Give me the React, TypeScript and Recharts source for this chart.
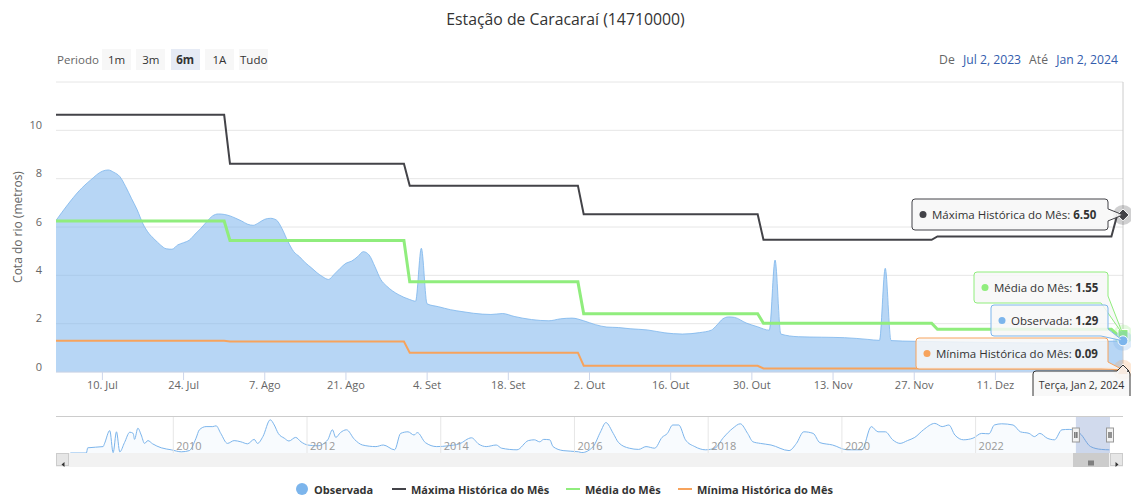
import React from "react"
import {
  ComposedChart,
  Area,
  Line,
  XAxis,
  YAxis,
  CartesianGrid,
  ReferenceLine,
  ReferenceDot,
  ReferenceArea,
} from "recharts"

const FONT = "'Open Sans', 'DejaVu Sans', sans-serif"
const DAY = 86400000

const MONTHS = ["Jan", "Fev", "Mar", "Abr", "Mai", "Jun", "Jul", "Ago", "Set", "Out", "Nov", "Dez"]
const WEEKDAYS = ["Domingo", "Segunda", "Terça", "Quarta", "Quinta", "Sexta", "Sábado"]

const title = "Estação de Caracaraí (14710000)"
const periodButtons = ["1m", "3m", "6m", "1A", "Tudo"]
const selectedPeriod = "6m"
const rangeStart = "2023-07-02"
const rangeEnd = "2024-01-02"

// cota observada (m)
const obsDates = [
  "2023-07-02", "2023-07-04", "2023-07-06", "2023-07-08", "2023-07-10", "2023-07-11", "2023-07-12",
  "2023-07-13", "2023-07-14", "2023-07-15", "2023-07-16", "2023-07-17", "2023-07-18", "2023-07-19",
  "2023-07-20", "2023-07-21", "2023-07-22", "2023-07-23", "2023-07-24", "2023-07-25", "2023-07-26",
  "2023-07-27", "2023-07-28", "2023-07-29", "2023-07-30", "2023-07-31", "2023-08-01", "2023-08-02",
  "2023-08-03", "2023-08-04", "2023-08-05", "2023-08-06", "2023-08-07", "2023-08-08", "2023-08-09",
  "2023-08-10", "2023-08-11", "2023-08-12", "2023-08-13", "2023-08-14", "2023-08-15", "2023-08-16",
  "2023-08-17", "2023-08-18", "2023-08-19", "2023-08-20", "2023-08-21", "2023-08-22", "2023-08-23",
  "2023-08-24", "2023-08-25", "2023-08-26", "2023-08-27", "2023-08-28", "2023-08-29", "2023-08-30",
  "2023-08-31", "2023-09-01", "2023-09-02", "2023-09-03", "2023-09-04", "2023-09-06", "2023-09-08",
  "2023-09-10", "2023-09-12", "2023-09-15", "2023-09-17", "2023-09-19", "2023-09-22", "2023-09-25",
  "2023-09-27", "2023-09-29", "2023-10-01", "2023-10-03", "2023-10-05", "2023-10-07", "2023-10-09",
  "2023-10-12", "2023-10-15", "2023-10-18", "2023-10-21", "2023-10-23", "2023-10-24", "2023-10-25",
  "2023-10-26", "2023-10-27", "2023-10-29", "2023-10-31", "2023-11-02", "2023-11-03", "2023-11-04",
  "2023-11-07", "2023-11-11", "2023-11-15", "2023-11-19", "2023-11-21", "2023-11-22", "2023-11-23",
  "2023-11-27", "2023-12-02", "2023-12-08", "2023-12-14", "2023-12-20", "2023-12-26", "2024-01-02",
]
const obsValues = [
  6.27, 6.92, 7.5, 7.95, 8.31, 8.36, 8.26,
  8.09, 7.68, 7.19, 6.71, 6.13, 5.74, 5.49,
  5.26, 5.1, 5.08, 5.26, 5.35, 5.46, 5.71,
  5.95, 6.22, 6.46, 6.54, 6.52, 6.46, 6.36,
  6.25, 6.12, 6.07, 6.18, 6.32, 6.36, 6.29,
  5.92, 5.4, 4.98, 4.77, 4.52, 4.32, 4.11,
  3.94, 3.83, 4.05, 4.29, 4.5, 4.59, 4.77,
  4.98, 4.84, 4.36, 3.83, 3.56, 3.36, 3.21,
  3.09, 3.0, 2.93, 5.12, 2.82, 2.7, 2.58,
  2.5, 2.43, 2.38, 2.42, 2.3, 2.17, 2.12,
  2.2, 2.23, 2.12, 1.96, 1.86, 1.84, 1.79,
  1.74, 1.62, 1.57, 1.63, 1.73, 1.95, 2.2,
  2.28, 2.26, 2.03, 1.87, 1.73, 4.63, 1.57,
  1.46, 1.44, 1.42, 1.35, 1.31, 4.29, 1.3,
  1.27, 1.25, 1.23, 1.21, 1.2, 1.24, 1.29,
]

// valores mensais historicos (m)
const monthStarts = ["2023-07-02", "2023-08-01", "2023-09-01", "2023-10-01", "2023-11-01", "2023-12-01", "2024-01-01"]
const maxByMonth = [10.64, 8.62, 7.71, 6.53, 5.47, 5.61, 6.5]
const meanByMonth = [6.25, 5.44, 3.73, 2.41, 2.02, 1.77, 1.55]
const minByMonth = [1.29, 1.26, 0.8, 0.26, 0.15, 0.14, 0.09]

// 25. Dez fica escondido sob o rotulo do tooltip
const xTickDates = [
  "2023-07-10", "2023-07-24", "2023-08-07", "2023-08-21", "2023-09-04", "2023-09-18", "2023-10-02",
  "2023-10-16", "2023-10-30", "2023-11-13", "2023-11-27", "2023-12-11",
]
const yTicks = [0, 2, 4, 6, 8, 10, 12]

// navegador: serie historica completa (ano decimal, m)
const navYears = [
  2008.46, 2008.7, 2008.72, 2008.95, 2008.97, 2009.05, 2009.1, 2009.15, 2009.2, 2009.27, 2009.35,
  2009.4, 2009.42, 2009.47, 2009.52, 2009.57, 2009.62, 2009.69, 2009.82, 2009.97, 2010.12, 2010.24,
  2010.34, 2010.39, 2010.49, 2010.59, 2010.64, 2010.71, 2010.81, 2010.91, 2011.01, 2011.11, 2011.21,
  2011.26, 2011.34, 2011.45, 2011.51, 2011.57, 2011.66, 2011.73, 2011.83, 2011.91, 2012.01, 2012.16,
  2012.31, 2012.38, 2012.43, 2012.5, 2012.59, 2012.71, 2012.83, 2013.03, 2013.14, 2013.31, 2013.4,
  2013.51, 2013.6, 2013.65, 2013.77, 2013.94, 2014.11, 2014.28, 2014.46, 2014.57, 2014.68, 2014.83,
  2014.91, 2015.14, 2015.31, 2015.4, 2015.48, 2015.54, 2015.63, 2015.68, 2015.83, 2016.06, 2016.11,
  2016.28, 2016.39, 2016.47, 2016.58, 2016.66, 2016.82, 2016.96, 2017.07, 2017.2, 2017.31, 2017.39,
  2017.47, 2017.56, 2017.66, 2017.8, 2017.96, 2018.1, 2018.23, 2018.37, 2018.48, 2018.59, 2018.67,
  2018.78, 2018.94, 2019.21, 2019.32, 2019.43, 2019.57, 2019.67, 2019.86, 2020.08, 2020.3, 2020.44,
  2020.54, 2020.65, 2020.76, 2020.87, 2020.98, 2021.09, 2021.22, 2021.39, 2021.5, 2021.6, 2021.69,
  2021.82, 2021.96, 2022.09, 2022.2, 2022.28, 2022.39, 2022.56, 2022.67, 2022.8, 2022.88, 2022.96,
  2023.07, 2023.18, 2023.29, 2023.4, 2023.56, 2023.72, 2023.88, 2024.0,
]
const navLevels = [
  0.5, 0.5, 1.8, 2.1, 2.8, 6.1, 0.6, 5.8, 0.8, 3.1, 5.7,
  5.4, 3.9, 6.7, 5.0, 2.9, 3.6, 2.8, 1.8, 1.3, 0.8, 1.1,
  4.2, 6.3, 7.1, 7.1, 7.3, 5.4, 2.9, 3.6, 3.3, 2.8, 3.9,
  2.9, 4.6, 8.8, 7.5, 5.4, 4.2, 3.5, 4.4, 3.3, 2.5, 2.3,
  3.8, 6.3, 4.4, 5.6, 6.3, 3.9, 2.5, 2.1, 2.5, 1.3, 5.4,
  5.8, 5.0, 5.6, 3.1, 2.1, 2.3, 2.8, 4.3, 2.7, 2.1, 2.5,
  1.7, 1.3, 3.6, 3.8, 3.3, 3.9, 3.8, 2.1, 1.1, 0.8, 0.6,
  2.1, 5.8, 8.1, 5.4, 3.1, 1.7, 1.4, 2.1, 1.7, 4.4, 5.4,
  7.5, 7.5, 3.8, 2.1, 1.3, 1.7, 4.4, 6.7, 7.8, 5.4, 3.3,
  2.9, 2.5, 1.1, 2.9, 5.8, 5.4, 3.1, 2.5, 1.3, 1.3, 7.1,
  5.8, 5.8, 3.8, 2.9, 3.6, 4.4, 6.3, 7.9, 7.1, 7.5, 5.0,
  3.8, 4.2, 5.4, 5.3, 7.5, 7.8, 7.5, 5.8, 5.4, 4.6, 5.4,
  4.2, 3.8, 6.3, 6.4, 5.4, 2.1, 1.4, 1.3,
]
const navTickYears = [2010, 2012, 2014, 2016, 2018, 2020, 2022]
const navDomain = [2008.44, 2024.01]
const navWindow = [2023.5, 2024.01]

const C_OBS = "#7cb5ec"
const C_MAX = "#434348"
const C_MED = "#90ed7d"
const C_MIN = "#f7a35c"

const parse = (d: string) => Date.parse(d + "T00:00:00Z")
const startT = parse(rangeStart)
const endT = parse(rangeEnd)

const obsData = obsDates.map((d, i) => ({ t: parse(d), v: obsValues[i] }))

function stepSeries(values: number[]) {
  const pts: { t: number; v: number }[] = []
  monthStarts.forEach((m, i) => {
    const next = i + 1 < monthStarts.length ? parse(monthStarts[i + 1]) - DAY : endT
    pts.push({ t: parse(m), v: values[i] })
    pts.push({ t: next, v: values[i] })
  })
  return pts
}
const maxData = stepSeries(maxByMonth)
const meanData = stepSeries(meanByMonth)
const minData = stepSeries(minByMonth)
const navData = navYears.map((y, i) => ({ yr: y, v: navLevels[i] }))

const last = (a: number[]) => a[a.length - 1]

function fmtTick(t: number) {
  const d = new Date(t)
  return `${d.getUTCDate()}. ${MONTHS[d.getUTCMonth()]}`
}
function fmtShort(t: number) {
  const d = new Date(t)
  return `${MONTHS[d.getUTCMonth()]} ${d.getUTCDate()}, ${d.getUTCFullYear()}`
}
function fmtLong(t: number) {
  return `${WEEKDAYS[new Date(t).getUTCDay()]}, ${fmtShort(t)}`
}

function YTick(props: any) {
  const { x, y, payload } = props
  if (payload.value === 12) return <g />
  return (
    <text x={x} y={y} dy={-1.5} textAnchor="end" fill="#666" fontSize={11} fontFamily={FONT}>
      {payload.value}
    </text>
  )
}

// caixa com ponteiro para a direita (tooltip dividido do Highcharts)
function calloutRight(x: number, y: number, w: number, h: number, ax: number, ay: number) {
  const r = 3
  const R = x + w
  const B = y + h
  const top = `M${x + r},${y} L${R - r},${y} Q${R},${y} ${R},${y + r}`
  const left = `L${x + r},${B} Q${x},${B} ${x},${B - r} L${x},${y + r} Q${x},${y} ${x + r},${y} Z`
  if (ay > B - 8) {
    return `${top} L${R},${B - 7} L${ax},${ay} L${R - 7},${B} ${left}`
  }
  if (ay < y + 8) {
    return `M${x + r},${y} L${R - 7},${y} L${ax},${ay} L${R},${y + 7} L${R},${B - r} Q${R},${B} ${R - r},${B} ${left}`
  }
  return `${top} L${R},${ay - 6} L${ax},${ay} L${R},${ay + 6} L${R},${B - r} Q${R},${B} ${R - r},${B} ${left}`
}

function Marker({ kind, cx, cy, color }: { kind: string; cx: number; cy: number; color: string }) {
  let m: React.ReactNode
  if (kind === "diamond") {
    m = <path d={`M${cx},${cy - 6} L${cx + 6},${cy} L${cx},${cy + 6} L${cx - 6},${cy} Z`} fill={color} stroke="#fff" />
  } else if (kind === "square") {
    m = <rect x={cx - 5} y={cy - 5} width={10} height={10} fill={color} stroke="#fff" />
  } else if (kind === "triangle") {
    m = <path d={`M${cx},${cy - 6} L${cx + 6},${cy + 5} L${cx - 6},${cy + 5} Z`} fill={color} stroke="#fff" />
  } else {
    m = <circle cx={cx} cy={cy} r={5} fill={color} stroke="#fff" />
  }
  return (
    <g>
      <circle cx={cx} cy={cy} r={10} fill={color} fillOpacity={0.25} />
      {m}
    </g>
  )
}

type Tip = { name: string; value: number; color: string; marker: string; left: number; top: number; width: number }

const TIP_H = 31
const tips: Record<string, Tip> = {
  max: { name: "Máxima Histórica do Mês", value: last(maxByMonth), color: C_MAX, marker: "diamond", left: 912, top: 199, width: 196 },
  mean: { name: "Média do Mês", value: last(meanByMonth), color: C_MED, marker: "square", left: 974, top: 272, width: 134 },
  obs: { name: "Observada", value: last(obsValues), color: C_OBS, marker: "circle", left: 991, top: 305, width: 117 },
  min: { name: "Mínima Histórica do Mês", value: last(minByMonth), color: C_MIN, marker: "triangle", left: 916, top: 338, width: 192 },
}

const tipShape = (tip: Tip) => (p: any) => (
  <g>
    <Marker kind={tip.marker} cx={p.cx} cy={p.cy} color={tip.color} />
    <path
      d={calloutRight(tip.left, tip.top, tip.width, TIP_H, p.cx, p.cy)}
      fill="rgba(247,247,247,0.85)"
      stroke={tip.color}
      strokeWidth={1}
    />
    <circle cx={tip.left + 11} cy={tip.top + 15.5} r={3.5} fill={tip.color} />
    <text x={tip.left + 20} y={tip.top + 19.5} fontSize={11.5} fontFamily={FONT} fill="#333">
      {tip.name}: <tspan fontWeight="bold">{tip.value.toFixed(2)}</tspan>
    </text>
  </g>
)

const headerShape = (p: any) => {
  const x = 1033
  const y = p.cy - 1
  const w = 97
  const h = 28
  const ax = p.cx
  const d = `M${x + 3},${y} L${ax - 6},${y} L${ax},${y - 6} L${ax + 6},${y} L${x + w - 3},${y} Q${x + w},${y} ${x + w},${y + 3} L${x + w},${y + h - 3} Q${x + w},${y + h} ${x + w - 3},${y + h} L${x + 3},${y + h} Q${x},${y + h} ${x},${y + h - 3} L${x},${y + 3} Q${x},${y} ${x + 3},${y} Z`
  return (
    <g>
      <path d={d} fill="rgba(247,247,247,0.85)" stroke="#333" strokeWidth={1} />
      <text x={x + w / 2} y={y + 18} textAnchor="middle" fontSize={10.5} fontFamily={FONT} fill="#333">
        {fmtLong(endT)}
      </text>
    </g>
  )
}

const handleShape = (p: any) => (
  <g>
    <rect x={p.cx - 3.5} y={p.cy - 7} width={7} height={14} fill="#f2f2f2" stroke="#999" />
    <line x1={p.cx - 1} y1={p.cy - 3} x2={p.cx - 1} y2={p.cy + 3} stroke="#333" />
    <line x1={p.cx + 1} y1={p.cy - 3} x2={p.cx + 1} y2={p.cy + 3} stroke="#333" />
  </g>
)

const legendItems = [
  { name: "Observada", color: C_OBS, symbol: "circle", left: 296 },
  { name: "Máxima Histórica do Mês", color: C_MAX, symbol: "line", left: 392 },
  { name: "Média do Mês", color: C_MED, symbol: "line", left: 566 },
  { name: "Mínima Histórica do Mês", color: C_MIN, symbol: "line", left: 678 },
]

export default function App() {
  const xTicks = xTickDates.map(parse)
  return (
    <div style={{ position: "absolute", left: 0, top: 0, width: 1131, height: 495, background: "#fff", fontFamily: FONT, overflow: "hidden" }}>
      <div style={{ position: "absolute", top: 8, left: 0, width: 1131, textAlign: "center", fontSize: 15.8, lineHeight: "22px", color: "#333" }}>
        {title}
      </div>

      <div style={{ position: "absolute", top: 51, left: 57, fontSize: 11.5, lineHeight: "18px", color: "#666" }}>Periodo</div>
      {periodButtons.map((b, i) => (
        <div
          key={b}
          style={{
            position: "absolute",
            top: 49,
            left: 102 + i * 34.3,
            width: 29,
            height: 21,
            lineHeight: "21px",
            textAlign: "center",
            fontSize: 11.5,
            color: "#333",
            fontWeight: b === selectedPeriod ? "bold" : "normal",
            background: b === selectedPeriod ? "#e6ebf5" : "#f7f7f7",
          }}
        >
          {b}
        </div>
      ))}
      <div style={{ position: "absolute", top: 51, right: 13, fontSize: 12.2, lineHeight: "18px", color: "#666", whiteSpace: "nowrap" }}>
        De <span style={{ color: "#335cad", margin: "0 8px 0 5px" }}>{fmtShort(startT)}</span>
        Até <span style={{ color: "#335cad", marginLeft: 5 }}>{fmtShort(endT)}</span>
      </div>

      <div style={{ position: "absolute", left: 0, top: 0 }}>
        <ComposedChart width={1131} height={396} margin={{ top: 82, right: 8, bottom: 0, left: 10 }}>
          <CartesianGrid horizontal vertical={false} stroke="#e6e6e6" />
          <XAxis
            dataKey="t"
            type="number"
            domain={[startT, endT]}
            ticks={xTicks}
            interval={0}
            tickFormatter={fmtTick}
            height={24}
            tickSize={8}
            tickMargin={1}
            stroke="#ccd6eb"
            tick={{ fill: "#666", fontSize: 11, fontFamily: FONT }}
            allowDataOverflow
          />
          <YAxis
            type="number"
            domain={[0, 12]}
            ticks={yTicks}
            width={46}
            tick={YTick}
            tickLine={false}
            axisLine={false}
            tickSize={0}
            tickMargin={14}
            label={{
              content: (lp: any) => {
                const vb = lp.viewBox
                const cx = vb.x + 7
                const cy = vb.y + vb.height / 2
                return (
                  <text
                    x={cx}
                    y={cy}
                    transform={`rotate(-90 ${cx} ${cy})`}
                    textAnchor="middle"
                    dominantBaseline="central"
                    fontSize={12}
                    fontFamily={FONT}
                    fill="#666"
                  >
                    Cota do rio (metros)
                  </text>
                )
              },
            }}
          />
          <ReferenceLine x={endT} stroke="#cccccc" />
          <Area
            data={obsData}
            dataKey="v"
            type="monotone"
            stroke={C_OBS}
            strokeWidth={1}
            strokeOpacity={0.8}
            fill={C_OBS}
            fillOpacity={0.55}
            dot={false}
            activeDot={false}
            isAnimationActive={false}
          />
          <Line data={maxData} dataKey="v" type="linear" stroke={C_MAX} strokeWidth={2} dot={false} activeDot={false} isAnimationActive={false} />
          <Line data={meanData} dataKey="v" type="linear" stroke={C_MED} strokeWidth={3} dot={false} activeDot={false} isAnimationActive={false} />
          <Line data={minData} dataKey="v" type="linear" stroke={C_MIN} strokeWidth={2} dot={false} activeDot={false} isAnimationActive={false} />
          <ReferenceDot x={endT} y={last(maxByMonth)} ifOverflow="visible" shape={tipShape(tips.max)} />
          <ReferenceDot x={endT} y={last(meanByMonth)} ifOverflow="visible" shape={tipShape(tips.mean)} />
          <ReferenceDot x={endT} y={last(obsValues)} ifOverflow="visible" shape={tipShape(tips.obs)} />
          <ReferenceDot x={endT} y={last(minByMonth)} ifOverflow="visible" shape={tipShape(tips.min)} />
          <ReferenceDot x={endT} y={0} ifOverflow="visible" shape={headerShape} />
        </ComposedChart>
      </div>

      <div style={{ position: "absolute", left: 56, top: 416, width: 1067, height: 1, background: "#cccccc" }} />
      <div style={{ position: "absolute", left: 0, top: 417 }}>
        <ComposedChart width={1131} height={36} margin={{ top: 0, right: 21, bottom: 0, left: 69 }}>
          <XAxis dataKey="yr" type="number" domain={navDomain} hide allowDataOverflow />
          <YAxis type="number" domain={[0.5, 9.5]} hide allowDataOverflow />
          {navTickYears.map((y) => (
            <ReferenceLine
              key={y}
              x={y}
              stroke="#e6e6e6"
              label={{ value: String(y), position: "insideBottomLeft", offset: 3, fill: "#999", fontSize: 11, fontFamily: FONT }}
            />
          ))}
          <Area
            data={navData}
            dataKey="v"
            type="monotone"
            stroke={C_OBS}
            strokeWidth={1}
            fill={C_OBS}
            fillOpacity={0.05}
            dot={false}
            activeDot={false}
            isAnimationActive={false}
          />
          <ReferenceArea x1={navWindow[0]} x2={navWindow[1]} fill="#6685c2" fillOpacity={0.3} ifOverflow="visible" />
          <ReferenceDot x={navWindow[0]} y={5} ifOverflow="visible" shape={handleShape} />
          <ReferenceDot x={navWindow[1]} y={5} ifOverflow="visible" shape={handleShape} />
        </ComposedChart>
      </div>

      {/* barra de rolagem */}
      <div style={{ position: "absolute", left: 56, top: 453, width: 1067, height: 14, background: "#f2f2f2" }} />
      <div style={{ position: "absolute", left: 56, top: 453, width: 13, height: 13, background: "#e6e6e6", border: "1px solid #cccccc", boxSizing: "border-box" }}>
        <svg width={13} height={13}>
          <path d="M7.5,4 L4.5,6.5 L7.5,9 Z" fill="#333" />
        </svg>
      </div>
      <div style={{ position: "absolute", left: 1073, top: 453, width: 36, height: 14, background: "#cccccc" }}>
        <svg width={36} height={14}>
          <line x1={16} y1={4.5} x2={16} y2={9.5} stroke="#333" />
          <line x1={18} y1={4.5} x2={18} y2={9.5} stroke="#333" />
          <line x1={20} y1={4.5} x2={20} y2={9.5} stroke="#333" />
        </svg>
      </div>
      <div style={{ position: "absolute", left: 1110, top: 453, width: 13, height: 13, background: "#e6e6e6", border: "1px solid #cccccc", boxSizing: "border-box" }}>
        <svg width={13} height={13}>
          <path d="M4.5,4 L7.5,6.5 L4.5,9 Z" fill="#333" />
        </svg>
      </div>

      {legendItems.map((it) => (
        <div key={it.name} style={{ position: "absolute", left: it.left, top: 480, height: 18, display: "flex", alignItems: "center", fontSize: 11, fontWeight: "bold", color: "#333", whiteSpace: "nowrap" }}>
          {it.symbol === "circle" ? (
            <span style={{ width: 12, height: 12, borderRadius: 6, background: it.color, marginRight: 6 }} />
          ) : (
            <span style={{ width: 14, height: 2, background: it.color, marginRight: 5 }} />
          )}
          {it.name}
        </div>
      ))}
    </div>
  )
}
